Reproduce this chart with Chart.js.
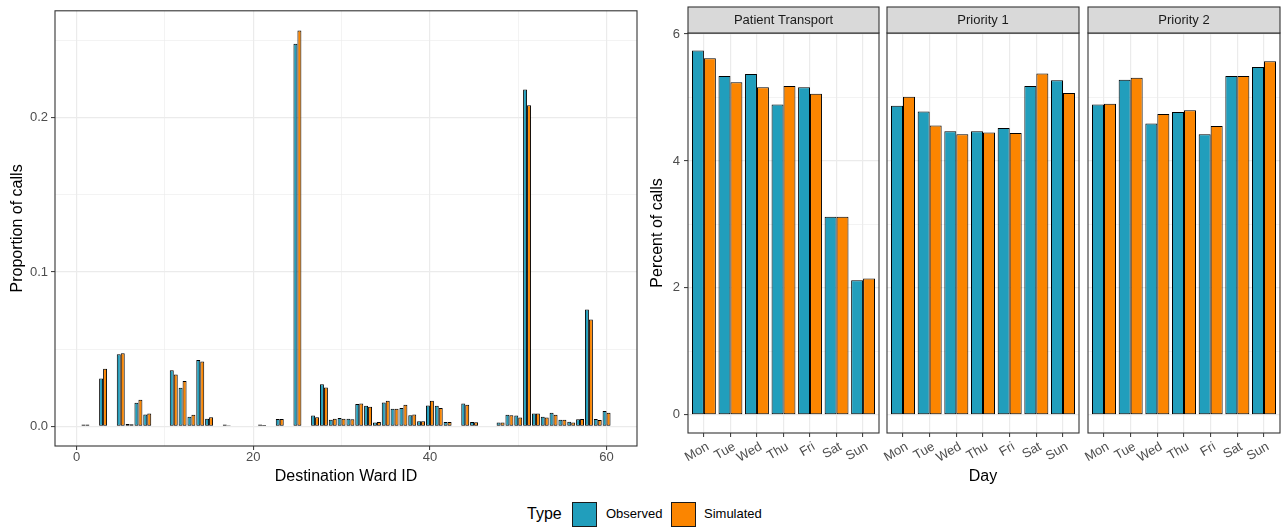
<!DOCTYPE html>
<html>
<head>
<meta charset="utf-8">
<script src="https://cdn.jsdelivr.net/npm/chart.js@4.4.1/dist/chart.umd.min.js"></script>
<style>
  body { margin: 0; width: 1284px; height: 529px; background: #fff; position: relative; overflow: hidden;
         font-family: "Liberation Sans", Arial, Helvetica, sans-serif; }
  .panel { position: absolute; top: 0; height: 490px; }
  .titulo { position: absolute; top: 504px; font-size: 16px; line-height: 20px; color: #000; }
  .caja { position: absolute; top: 502px; width: 23px; height: 23px; border: 1px solid #1a1a1a; }
  .texto { position: absolute; top: 504px; font-size: 13px; line-height: 20px; color: #000; }
</style>
</head>
<body>
<div class="panel" style="left:0;width:645px"><canvas id="grafica-destino" width="645" height="490"></canvas></div>
<div class="panel" style="left:645px;width:240px"><canvas id="grafica-transporte" width="240" height="490"></canvas></div>
<div class="panel" style="left:850px;width:235px"><canvas id="grafica-prioridad1" width="235" height="490"></canvas></div>
<div class="panel" style="left:1050px;width:234px"><canvas id="grafica-prioridad2" width="234" height="490"></canvas></div>
<div id="leyenda"></div>

<script>
// DATOS

var series = ['Observed', 'Simulated'];
var colores = ['#219EBC', '#FB8500'];

// Proporción de llamadas por sala de destino
var salas = [1, 3, 5, 6, 7, 8, 11, 12, 13, 14, 15, 17, 21, 23, 25, 27, 28, 29, 30, 31, 32, 33, 34, 35, 36, 37, 38, 39, 40, 41, 42, 44, 45, 48, 49, 50, 51, 52, 53, 54, 55, 56, 57, 58, 59, 60];
var salasObservado = [0.0012, 0.0310, 0.0467, 0.0015, 0.0152, 0.0077, 0.0364, 0.0249, 0.0062, 0.0429, 0.0049, 0.0012, 0.0012, 0.0047, 0.2480, 0.0069, 0.0272, 0.0043, 0.0054, 0.0049, 0.0144, 0.0133, 0.0024, 0.0154, 0.0114, 0.0118, 0.0071, 0.0032, 0.0135, 0.0133, 0.0028, 0.0148, 0.0028, 0.0024, 0.0074, 0.0069, 0.2184, 0.0083, 0.0062, 0.0088, 0.0043, 0.0030, 0.0045, 0.0757, 0.0047, 0.0099];
var salasSimulado = [0.0012, 0.0373, 0.0474, 0.0013, 0.0172, 0.0082, 0.0336, 0.0294, 0.0075, 0.0420, 0.0058, 0.0006, 0.0008, 0.0047, 0.2566, 0.0058, 0.0251, 0.0049, 0.0049, 0.0045, 0.0148, 0.0127, 0.0028, 0.0165, 0.0114, 0.0139, 0.0077, 0.0032, 0.0165, 0.0118, 0.0028, 0.0139, 0.0026, 0.0024, 0.0071, 0.0056, 0.2081, 0.0083, 0.0056, 0.0075, 0.0043, 0.0024, 0.0047, 0.0692, 0.0041, 0.0088];

// Porcentaje de llamadas por día
var dias = ['Mon', 'Tue', 'Wed', 'Thu', 'Fri', 'Sat', 'Sun'];
var facetas = ['Patient Transport', 'Priority 1', 'Priority 2'];
var transporteObservado = [5.74, 5.34, 5.37, 4.89, 5.16, 3.12, 2.12];
var transporteSimulado  = [5.62, 5.24, 5.16, 5.18, 5.06, 3.12, 2.15];
var prioridad1Observado = [4.87, 4.78, 4.47, 4.47, 4.52, 5.18, 5.27];
var prioridad1Simulado  = [5.01, 4.56, 4.42, 4.45, 4.44, 5.38, 5.07];
var prioridad2Observado = [4.89, 5.28, 4.59, 4.77, 4.42, 5.34, 5.48];
var prioridad2Simulado  = [4.90, 5.31, 4.74, 4.80, 4.55, 5.34, 5.57];

// Marcas de los ejes
var ticksXSalas = [0, 10, 20, 30, 40, 50, 60];
var ticksXSalasMayores = [0, 20, 40, 60];
var ticksYSalas = [0, 0.05, 0.1, 0.15, 0.2, 0.25];
var ticksYSalasMayores = [0, 0.1, 0.2];
var ticksXDias = [1, 2, 3, 4, 5, 6, 7];
var ticksYDias = [0, 1, 2, 3, 4, 5, 6];
var ticksYDiasMayores = [0, 2, 4, 6];

// ESTILO GENERAL

Chart.defaults.font.family = '"Liberation Sans", Arial, Helvetica, sans-serif';
Chart.defaults.color = '#4D4D4D';
Chart.defaults.animation = false;

var FUENTE_TICKS = { size: 13 };
var FUENTE_TITULO = { size: 16 };

function esMayor(lista, v) {
    return lista.some(m => Math.abs(m - v) < 1e-9);
}

function fijarTicks(valores) {
    return function(scale) {
        scale.ticks = valores.map(v => ({ value: v }));
    };
}

function rejilla(mayores, conMarcas) {
    return {
        color: '#EBEBEB',
        lineWidth: ctx => (ctx.tick && esMayor(mayores, ctx.tick.value)) ? 1.2 : 0.6,
        drawTicks: conMarcas,
        tickLength: 4,
        tickWidth: 1,
        tickColor: ctx => (ctx.tick && esMayor(mayores, ctx.tick.value)) ? '#333333' : 'rgba(0,0,0,0)'
    };
}

// Marco del panel y tira de la faceta
var marcoPanel = {
    id: 'marcoPanel',
    afterDatasetsDraw: function(chart, args, opts) {
        var a = chart.chartArea;
        var ctx = chart.ctx;
        ctx.save();
        ctx.strokeStyle = '#333333';
        ctx.lineWidth = 1.1;
        ctx.strokeRect(a.left, a.top, a.right - a.left, a.bottom - a.top);
        if (opts.tira) {
            ctx.fillStyle = '#D9D9D9';
            ctx.fillRect(a.left, a.top - 26, a.right - a.left, 26);
            ctx.strokeRect(a.left, a.top - 26, a.right - a.left, 26);
            ctx.fillStyle = '#1A1A1A';
            ctx.font = '13px "Liberation Sans", Arial, sans-serif';
            ctx.textAlign = 'center';
            ctx.textBaseline = 'middle';
            ctx.fillText(opts.tira, (a.left + a.right) / 2, a.top - 13);
        }
        ctx.restore();
    }
};

function datasetBarras(nombre, color, xs, ys) {
    return {
        label: nombre,
        data: ys.map((v, i) => ({ x: xs[i], y: v })),
        backgroundColor: color,
        borderColor: '#000000',
        borderWidth: 1,
        borderSkipped: false,
        categoryPercentage: 0.9,
        barPercentage: 1.0
    };
}

// GRÁFICA DE SALAS DE DESTINO

function crearGraficaSalas() {
    var ctx = document.getElementById('grafica-destino').getContext('2d');
    new Chart(ctx, {
        type: 'bar',
        data: {
            datasets: [
                datasetBarras(series[0], colores[0], salas, salasObservado),
                datasetBarras(series[1], colores[1], salas, salasSimulado)
            ]
        },
        options: {
            responsive: false,
            layout: { padding: { left: 0, top: 7, right: 8, bottom: 0 }, autoPadding: false },
            plugins: { legend: { display: false }, tooltip: { enabled: false }, marcoPanel: {} },
            scales: {
                x: {
                    type: 'linear',
                    offset: false,
                    min: -2.445,
                    max: 63.445,
                    afterBuildTicks: fijarTicks(ticksXSalas),
                    afterFit: s => { s.height = 44; },
                    border: { display: false },
                    grid: Object.assign(rejilla(ticksXSalasMayores, true), { offset: false }),
                    ticks: {
                        font: FUENTE_TICKS, padding: 0, maxRotation: 0, autoSkip: false,
                        callback: v => esMayor(ticksXSalasMayores, v) ? String(v) : ''
                    },
                    title: { display: true, text: 'Destination Ward ID', color: '#000', font: FUENTE_TITULO, padding: { top: 0, bottom: 4 } }
                },
                y: {
                    min: -0.0128,
                    max: 0.2694,
                    afterBuildTicks: fijarTicks(ticksYSalas),
                    afterFit: s => { s.width = 55; },
                    border: { display: false },
                    grid: rejilla(ticksYSalasMayores, true),
                    ticks: {
                        font: FUENTE_TICKS, padding: 3, autoSkip: false,
                        callback: v => esMayor(ticksYSalasMayores, v) ? v.toFixed(1) : ''
                    },
                    title: { display: true, text: 'Proportion of calls', color: '#000', font: FUENTE_TITULO, padding: { top: 8, bottom: 0 } }
                }
            }
        },
        plugins: [marcoPanel]
    });
}

// GRÁFICAS POR DÍA (FACETAS)

function crearGraficaDia(idCanvas, faceta, observado, simulado, conEjeY, conTitulo, padIzq, padDer) {
    var ctx = document.getElementById(idCanvas).getContext('2d');
    new Chart(ctx, {
        type: 'bar',
        data: {
            datasets: [
                datasetBarras(series[0], colores[0], ticksXDias, observado),
                datasetBarras(series[1], colores[1], ticksXDias, simulado)
            ]
        },
        options: {
            responsive: false,
            layout: { padding: { left: padIzq, top: 33, right: padDer, bottom: 0 }, autoPadding: false },
            plugins: { legend: { display: false }, tooltip: { enabled: false }, marcoPanel: { tira: faceta } },
            scales: {
                x: {
                    type: 'linear',
                    offset: false,
                    min: 0.4,
                    max: 7.6,
                    afterBuildTicks: fijarTicks(ticksXDias),
                    afterFit: s => { s.height = 57; },
                    border: { display: false },
                    grid: Object.assign(rejilla(ticksXDias, true), { offset: false }),
                    ticks: {
                        font: FUENTE_TICKS, padding: 2, autoSkip: false,
                        minRotation: 30, maxRotation: 30, labelOffset: 4,
                        callback: v => dias[v - 1]
                    },
                    title: { display: conTitulo, text: 'Day', color: '#000', font: FUENTE_TITULO, padding: { top: 0, bottom: 4 } }
                },
                y: {
                    min: -0.2865,
                    max: 6.0165,
                    afterBuildTicks: fijarTicks(ticksYDias),
                    afterFit: s => { s.width = conEjeY ? 43 : 0; },
                    border: { display: false },
                    grid: rejilla(ticksYDiasMayores, conEjeY),
                    ticks: {
                        display: conEjeY, font: FUENTE_TICKS, padding: 4, autoSkip: false,
                        callback: v => esMayor(ticksYDiasMayores, v) ? String(v) : ''
                    },
                    title: { display: conEjeY, text: 'Percent of calls', color: '#000', font: FUENTE_TITULO, padding: { top: 3, bottom: 0 } }
                }
            }
        },
        plugins: [marcoPanel]
    });
}

// LEYENDA

function crearLeyenda() {
    var cont = document.getElementById('leyenda');
    var html = '<span class="titulo" style="left:527px">Type</span>';
    var posCaja = [572, 671];
    var posTexto = [606, 704];
    series.forEach((s, i) => {
        html += '<span class="caja" style="left:' + posCaja[i] + 'px;background:' + colores[i] + '"></span>';
        html += '<span class="texto" style="left:' + posTexto[i] + 'px">' + s + '</span>';
    });
    cont.innerHTML = html;
}

crearGraficaSalas();
crearGraficaDia('grafica-transporte', facetas[0], transporteObservado, transporteSimulado, true, false, 0, 6);
crearGraficaDia('grafica-prioridad1', facetas[1], prioridad1Observado, prioridad1Simulado, false, true, 37, 6);
crearGraficaDia('grafica-prioridad2', facetas[2], prioridad2Observado, prioridad2Simulado, false, false, 38, 4);
crearLeyenda();
</script>
</body>
</html>
